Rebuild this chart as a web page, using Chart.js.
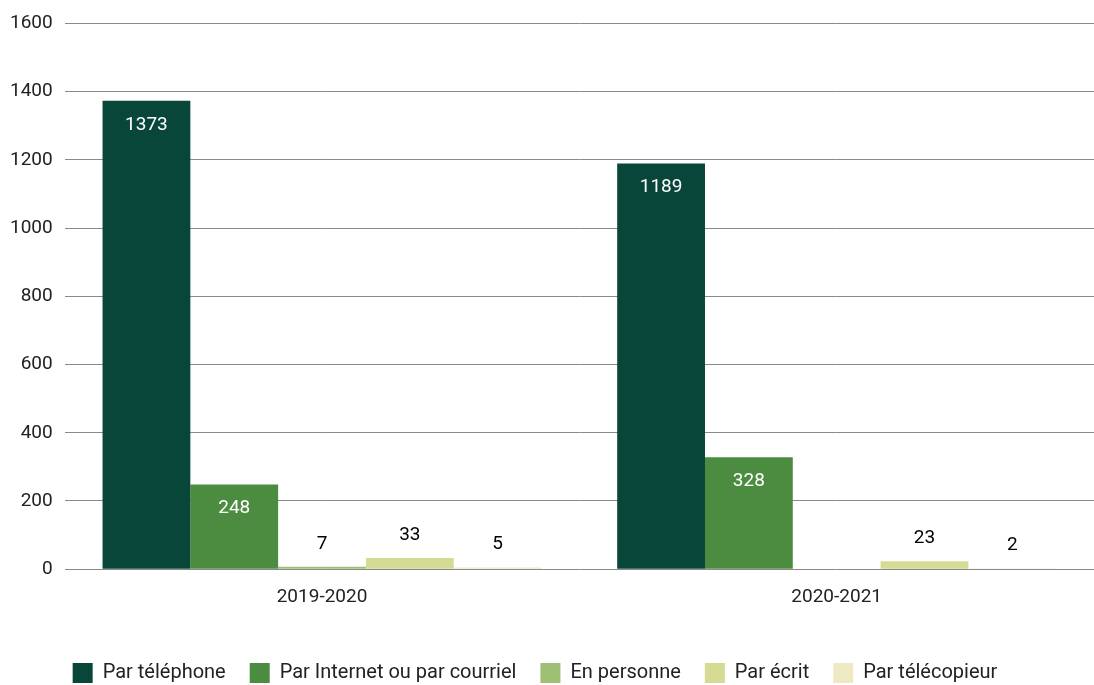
<!DOCTYPE html>
<html>
<head>
<meta charset="utf-8">
<script src="https://cdn.jsdelivr.net/npm/chart.js@4/dist/chart.umd.min.js"></script>
<style>
  html, body { margin:0; padding:0; background:#fff; }
  #wrap { width:1094px; height:685px; }
</style>
</head>
<body>
<div id="wrap"><canvas id="chart" width="1094" height="685"></canvas></div>
<script>
const categories = ["2019-2020", "2020-2021"];
const seriesNames = ["Par téléphone", "Par Internet ou par courriel", "En personne", "Par écrit", "Par télécopieur"];
const telephone = [1373, 1189];
const internet = [248, 328];
const personne = [7, null];
const ecrit = [33, 23];
const telecopieur = [5, 2];
const colors = ["#08463A", "#4C8C40", "#9EBF74", "#D5DB92", "#EFE9C3"];

const FONT = "Roboto, 'Noto Sans', sans-serif";

// draws value labels: white inside tall bars, black above short ones
const valueLabels = {
  id: "valueLabels",
  afterDatasetsDraw(chart){
    const ctx = chart.ctx;
    ctx.save();
    ctx.font = "19px " + FONT;
    ctx.textAlign = "center";
    ctx.textBaseline = "middle";
    chart.data.datasets.forEach((ds, i)=>{
      const meta = chart.getDatasetMeta(i);
      meta.data.forEach((bar, j)=>{
        const v = ds.data[j];
        if(v === null || v === undefined) return;
        const h = bar.base - bar.y;
        if(h > 40){
          ctx.fillStyle = "#fff";
          ctx.fillText(String(v), bar.x, bar.y + 24);
        } else {
          ctx.fillStyle = "#000";
          ctx.fillText(String(v), bar.x, bar.y - 23);
        }
      });
    });
    ctx.restore();
  }
};

// nudge the legend a bit to the left, like the original
const legendShift = {
  id: "legendShift",
  afterLayout(chart){
    if(chart.legend){
      chart.legend.left -= 14;
      chart.legend.right -= 14;
    }
  }
};

const values = [telephone, internet, personne, ecrit, telecopieur];

new Chart(document.getElementById("chart"), {
  type: "bar",
  data: {
    labels: categories,
    datasets: seriesNames.map((name, i)=>({
      label: name,
      data: values[i],
      backgroundColor: colors[i],
      borderWidth: 0,
      categoryPercentage: 0.853,
      barPercentage: 1.0
    }))
  },
  options: {
    responsive: false,
    animation: false,
    layout: { padding: { top: 6, right: -6, left: -2, bottom: -8 } },
    scales: {
      x: {
        grid: { display: false },
        border: { display: false },
        ticks: { color: "#222", font: { family: FONT, size: 19 }, padding: 9 },
        afterFit: (scale)=>{ scale.height += 21; }
      },
      y: {
        min: 0, max: 1600,
        ticks: {
          stepSize: 200, color: "#222", font: { family: FONT, size: 19 }, padding: 12,
          callback: (v)=>String(v)
        },
        grid: { color: "#8a8a8a", lineWidth: 1, drawTicks: false },
        border: { display: false }
      }
    },
    plugins: {
      legend: {
        position: "bottom",
        labels: {
          boxWidth: 20, boxHeight: 20, padding: 24,
          color: "#222",
          font: { family: FONT, size: 20 }
        }
      },
      tooltip: { enabled: false }
    }
  },
  plugins: [valueLabels, legendShift]
});
</script>
</body>
</html>
